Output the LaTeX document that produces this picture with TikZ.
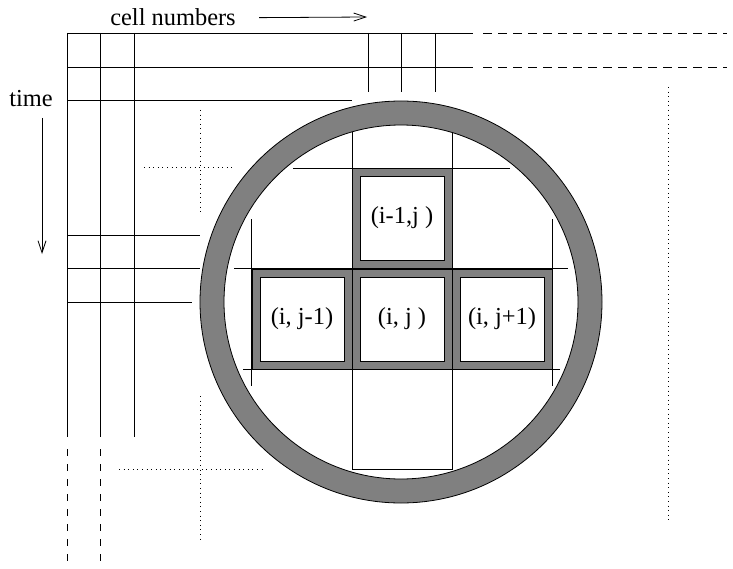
\documentclass[tikz,border=0pt]{standalone}
\usepackage{fontspec}
\setmainfont{Liberation Serif}
\usetikzlibrary{arrows.meta}

\tikzset{
  lbl/.style={font=\fontsize{24.5}{29}\selectfont,inner sep=0pt},
  dashline/.style={dash pattern=on 9bp off 6bp},
  dotline/.style={line width=1bp,dash pattern=on 1bp off 3.6bp},
  axisarrow/.style={-{Straight Barb[length=12bp,width=8bp]}},
  cellbox/.style={draw,fill=white,minimum size=84bp,inner sep=0pt,
                  font=\fontsize{24.5}{29}\selectfont}
}

\begin{document}
\begin{tikzpicture}[x=1bp,y=-1bp,line width=0.8bp]
\useasboundingbox (0,0) rectangle (733,569);
% ---- axis labels ----
\node[lbl,anchor=base] (cellnum) at (173,26) {cell numbers};
\node[lbl,anchor=base] (timelbl) at (31,107) {time};
\coordinate (cnhead) at (367,17);
\coordinate (timetop) at (42,118);
\coordinate (timehead) at (42,254);
\draw[axisarrow] ([xshift=23bp]cellnum.east) -- (cnhead);
\draw[axisarrow] (timetop) -- (timehead);
% ---- outer grid (time rows x cell columns) ----
\foreach \y in {33,67} {
  \draw (67,\y) -- (473,\y);
  \draw[dashline] (483,\y) -- (727,\y);
}
\draw (67,100) -- (352,100);
\foreach \x in {67,100} {
  \draw (\x,33) -- (\x,437);
  \draw[dashline,dash pattern=on 7bp off 8bp] (\x,449) -- (\x,563);
}
\draw (134,33) -- (134,437);
\foreach \x in {368,401,435} \draw (\x,33) -- (\x,92);
\foreach \y/\e in {235/200,268/200,302/192} \draw (67,\y) -- (\e,\y);
% ---- dotted continuation marks ----
\draw[dotline] (200,110) -- (200,213);
\draw[dotline] (144,168) -- (232,168);
\draw[dotline] (200,396) -- (200,542);
\draw[dotline] (119,469) -- (265,469);
\draw[dotline] (668,87) -- (668,520);
% ---- neighbourhood ring ----
\filldraw[fill=gray,even odd rule] (401,302) circle[radius=201]
                                   (401,302) circle[radius=177];
% ---- grid lines inside the ring ----
\draw (293,168) -- (510,168);
\draw (234,268) -- (568,268);
\draw (243,369) -- (560,369);
\foreach \x in {251,552} \draw (\x,219) -- (\x,386);
\foreach \x in {352,452} \draw (\x,132) -- (\x,469);
\draw (352,369) rectangle (452,469);
% ---- the four neighbour cells ----
\foreach \x/\y/\nm/\lab in {
  402/218/nup/{(i-1,j )}, 302/319/nleft/{(i, j-1)},
  402/319/ncentre/{(i, j )}, 502/319/nright/{(i, j+1)}%
}{
  \filldraw[fill=gray] (\x-50,\y-50) rectangle (\x+50,\y+50);
  \node[cellbox] (\nm) at (\x,\y) {\lab};
}
\end{tikzpicture}
\end{document}
